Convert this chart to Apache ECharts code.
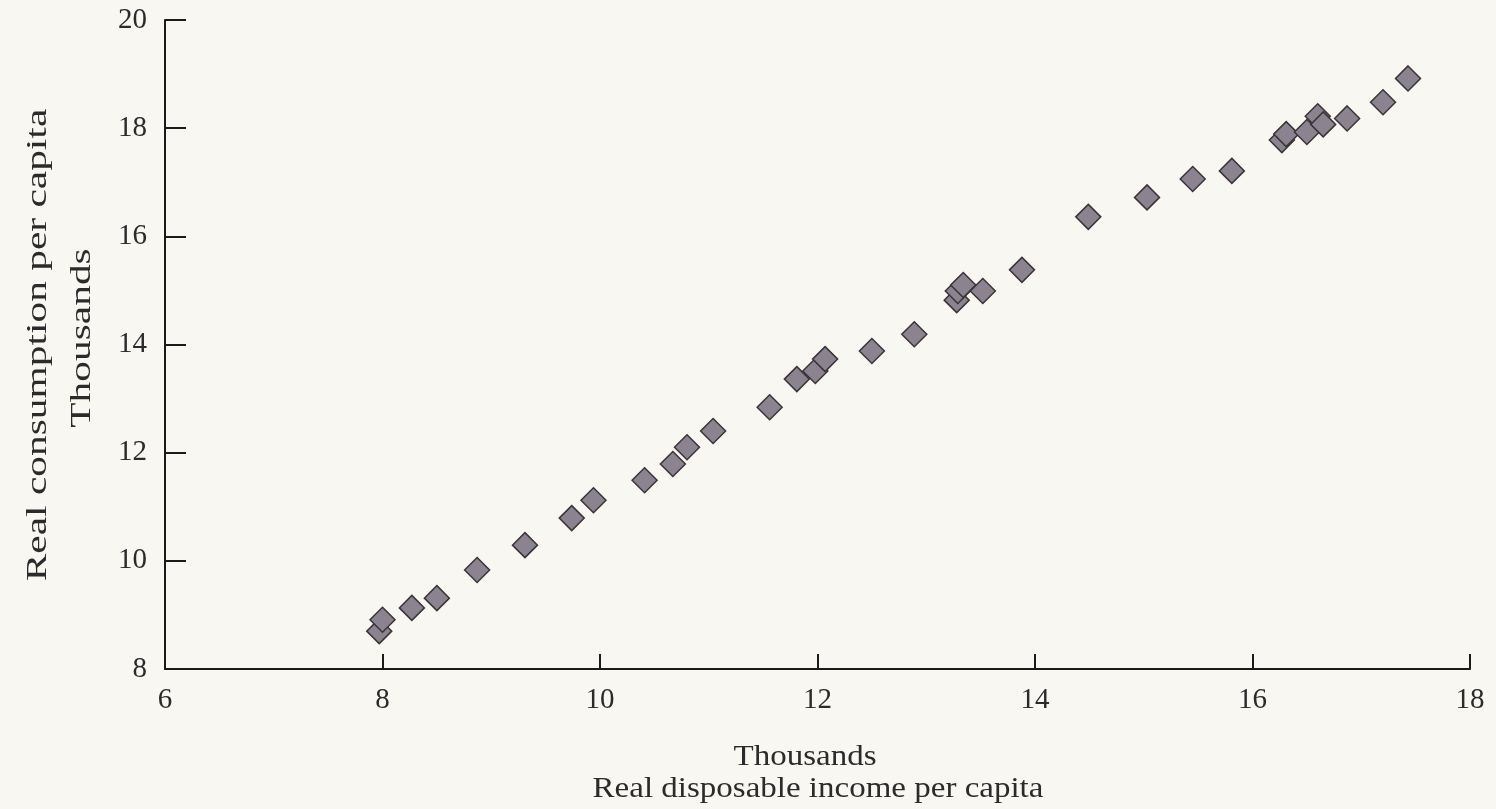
<!DOCTYPE html>
<html>
<head>
<meta charset="utf-8">
<title>Real consumption vs real disposable income</title>
<script src="https://cdn.jsdelivr.net/npm/echarts@6/dist/echarts.min.js"></script>
<style>
    html, body { margin: 0; padding: 0; background: #f9f7f2; }
    #main { width: 1496px; height: 809px; }
</style>
</head>
<body>
<div id="main"></div>
<script>
    // income per capita (thousands)
    var incomeValues = [7.97, 8.00, 8.27, 8.50, 8.87, 9.31, 9.74, 9.94, 10.41, 10.67,
        10.80, 11.04, 11.56, 11.81, 11.98, 12.07, 12.50, 12.89, 13.28, 13.29,
        13.34, 13.52, 13.88, 14.49, 15.03, 15.45, 15.81, 16.27, 16.31, 16.50,
        16.60, 16.65, 16.87, 17.20, 17.43];
    // consumption per capita (thousands)
    var consumptionValues = [8.70, 8.91, 9.13, 9.31, 9.83, 10.29, 10.79, 11.12, 11.49, 11.79,
        12.10, 12.40, 12.84, 13.36, 13.51, 13.73, 13.88, 14.19, 14.82, 14.99,
        15.10, 14.99, 15.38, 16.36, 16.72, 17.06, 17.21, 17.78, 17.89, 17.93,
        18.22, 18.07, 18.18, 18.48, 18.92];
    var xTicks = [6, 8, 10, 12, 14, 16, 18];
    var yTicks = [8, 10, 12, 14, 16, 18, 20];

    var points = [];
    for (var i = 0; i < incomeValues.length; i++) {
        points.push([incomeValues[i], consumptionValues[i]]);
    }

    var serif = '"Liberation Serif", "DejaVu Serif", serif';
    var textColor = '#2b2b2b';
    var chart = echarts.init(document.getElementById('main'));

    // axis titles are drawn as graphic texts, the scan is a bit stretched so a scale is applied
    function titleText(txt, x, y, vertical, stretch) {
        return {
            type: 'text', x: x, y: y,
            rotation: vertical ? Math.PI / 2 : 0,
            scaleX: stretch, scaleY: 1,
            style: { text: txt, font: '30px ' + serif, fill: textColor,
                     align: 'center', verticalAlign: 'middle' }
        };
    }

    chart.setOption({
        backgroundColor: '#f9f7f2',
        animation: false,
        grid: { left: 165, right: 26, top: 20, bottom: 140, containLabel: false },
        xAxis: {
            type: 'value',
            min: xTicks[0],
            max: xTicks[xTicks.length - 1],
            interval: 2,
            splitLine: { show: false },
            axisLine: { lineStyle: { color: '#1a1a1a', width: 2 } },
            axisTick: { inside: true, length: 15, lineStyle: { color: '#1a1a1a', width: 2 } },
            axisLabel: { margin: 17, fontFamily: serif, fontSize: 29, color: textColor }
        },
        yAxis: {
            type: 'value',
            min: yTicks[0],
            max: yTicks[yTicks.length - 1],
            interval: 2,
            splitLine: { show: false },
            axisLine: { lineStyle: { color: '#1a1a1a', width: 2 } },
            axisTick: { inside: true, length: 21, lineStyle: { color: '#1a1a1a', width: 2 } },
            axisLabel: { margin: 18, fontFamily: serif, fontSize: 29, color: textColor }
        },
        graphic: [
            titleText('Thousands', 805, 757, false, 1.1),
            titleText('Real disposable income per capita', 818, 789, false, 1.1),
            titleText('Real consumption per capita', 38, 345, true, 1.38),
            titleText('Thousands', 82, 338, true, 1.38)
        ],
        series: [{
            type: 'scatter',
            data: points,
            symbol: 'diamond',
            symbolSize: 25,
            itemStyle: { color: '#8b8490', borderColor: '#3a3438', borderWidth: 1.5, opacity: 1 }
        }]
    });
</script>
</body>
</html>
